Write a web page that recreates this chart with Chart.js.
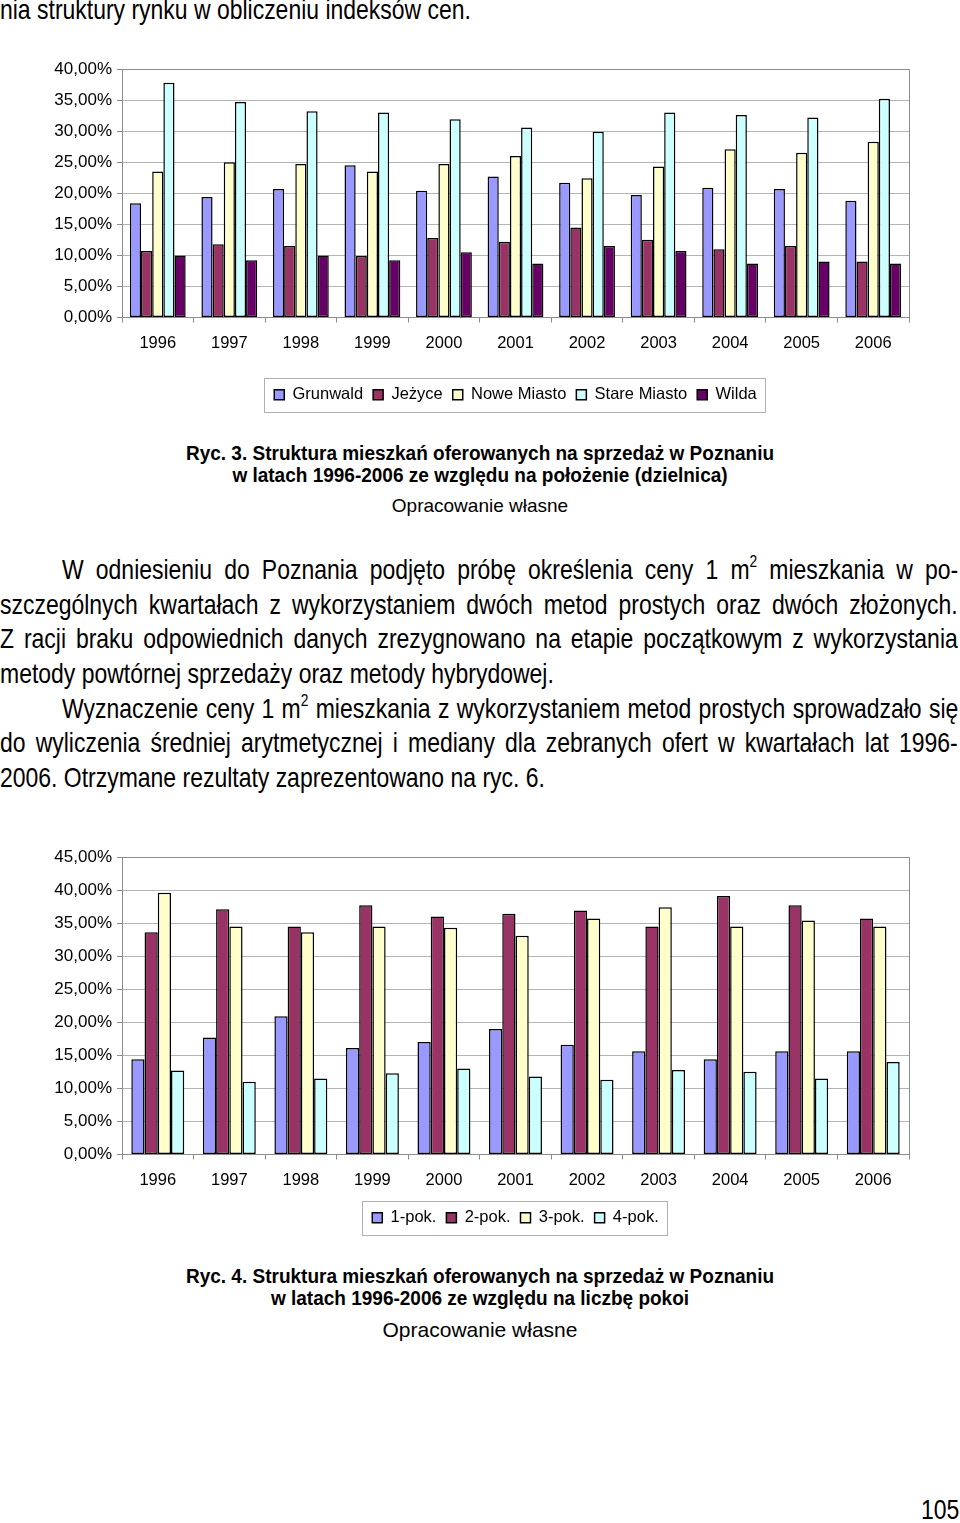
<!DOCTYPE html>
<html lang="pl">
<head>
<meta charset="utf-8">
<script src="https://cdn.jsdelivr.net/npm/chart.js@4.4.1/dist/chart.umd.min.js"></script>
<style>
  html, body { margin: 0; padding: 0; background: #fff; overflow: hidden; }
  body { width: 960px; height: 1523px; position: relative; color: #000; }
  canvas { position: absolute; left: 0; }
  .line {
    position: absolute; left: 0; white-space: nowrap;
    font-family: "Liberation Sans", Arial, sans-serif; font-size: 28px; line-height: 34px;
    transform-origin: 0 0; transform: scaleX(0.82);
  }
  .just { text-align: justify; text-align-last: justify; white-space: normal; }
  .line sup { font-size: 60%; line-height: 0; vertical-align: 0.7em; }
  .cap {
    position: absolute; left: 0; width: 960px; text-align: center; white-space: nowrap;
    font-family: "Liberation Sans", Arial, sans-serif; transform-origin: 480px 0;
  }
  .cap.b { font-weight: bold; font-size: 20px; line-height: 22px; transform: scaleX(0.95); }
</style>
</head>
<body>

<div class="line" style="top:-7px;">nia struktury rynku w obliczeniu indeksów cen.</div>

<canvas id="chartDzielnice" width="960" height="375" style="top:50px;"></canvas>

<div class="cap b" style="top:442px;">Ryc. 3. Struktura mieszkań oferowanych na sprzedaż w Poznaniu</div>
<div class="cap b" style="top:464px;">w latach 1996-2006 ze względu na położenie (dzielnica)</div>
<div class="cap" style="top:495px; font-size:19px; line-height:22px;">Opracowanie własne</div>

<div class="line just" style="top:553px; left:62px; width:1093px;">W odniesieniu do Poznania podjęto próbę określenia ceny 1 m<sup>2</sup> mieszkania w po-</div>
<div class="line just" style="top:588px; width:1168px;">szczególnych kwartałach z wykorzystaniem dwóch metod prostych oraz dwóch złożonych.</div>
<div class="line just" style="top:622px; width:1168px;">Z racji braku odpowiednich danych zrezygnowano na etapie początkowym z wykorzystania</div>
<div class="line" style="top:657px;">metody powtórnej sprzedaży oraz metody hybrydowej.</div>
<div class="line just" style="top:692px; left:62px; width:1093px;">Wyznaczenie ceny 1 m<sup>2</sup> mieszkania z wykorzystaniem metod prostych sprowadzało się</div>
<div class="line just" style="top:726px; width:1168px;">do wyliczenia średniej arytmetycznej i mediany dla zebranych ofert w kwartałach lat 1996-</div>
<div class="line" style="top:761px;">2006. Otrzymane rezultaty zaprezentowano na ryc. 6.</div>

<canvas id="chartPokoje" width="960" height="420" style="top:840px;"></canvas>

<div class="cap b" style="top:1265px;">Ryc. 4. Struktura mieszkań oferowanych na sprzedaż w Poznaniu</div>
<div class="cap b" style="top:1287px;">w latach 1996-2006 ze względu na liczbę pokoi</div>
<div class="cap" style="top:1318px; font-size:21px; line-height:24px;">Opracowanie własne</div>

<div class="line" style="top:1493px; left:921px;">105</div>

<script>
// lata na osi X
const lata = ['1996', '1997', '1998', '1999', '2000', '2001', '2002', '2003', '2004', '2005', '2006'];

// Ryc. 3 - udział ofert wg dzielnicy (%)
const grunwald = [18.4, 19.4, 20.7, 24.5, 20.4, 22.7, 21.7, 19.7, 20.9, 20.7, 18.8];
const jezyce = [10.7, 11.8, 11.5, 9.9, 12.8, 12.2, 14.5, 12.5, 11.0, 11.5, 9.0];
const noweMiasto = [23.5, 25.0, 24.7, 23.5, 24.7, 26.0, 22.4, 24.3, 27.1, 26.5, 28.3];
const stareMiasto = [37.8, 34.7, 33.2, 33.0, 31.9, 30.6, 29.9, 33.0, 32.6, 32.2, 35.2];
const wilda = [10.0, 9.2, 10.0, 9.2, 10.5, 8.7, 11.5, 10.7, 8.7, 9.0, 8.7];

// Ryc. 4 - udział ofert wg liczby pokoi (%)
const pok1 = [14.4, 17.7, 20.9, 16.1, 17.0, 19.0, 16.6, 15.6, 14.4, 15.6, 15.6];
const pok2 = [33.6, 37.1, 34.5, 37.7, 36.0, 36.4, 36.9, 34.5, 39.1, 37.7, 35.7];
const pok3 = [39.6, 34.5, 33.6, 34.5, 34.3, 33.1, 35.7, 37.4, 34.5, 35.4, 34.5];
const pok4 = [12.7, 11.0, 11.5, 12.3, 13.0, 11.8, 11.3, 12.8, 12.5, 11.5, 14.0];

const font = "'Liberation Sans', Arial, sans-serif";

// ramka wykresu (prawa krawedz) i ramka legendy
const ramki = {
    id: 'ramki',
    beforeDatasetsDraw(chart) {
        const ctx = chart.ctx;
        const a = chart.chartArea;
        ctx.save();
        ctx.strokeStyle = '#8c8c8c';
        ctx.lineWidth = 1;
        ctx.beginPath();
        ctx.moveTo(a.left, Math.round(a.top) + 0.5);
        ctx.lineTo(Math.round(a.right) + 0.5, Math.round(a.top) + 0.5);
        ctx.lineTo(Math.round(a.right) + 0.5, a.bottom);
        ctx.stroke();
        ctx.restore();
    },
    afterDraw(chart) {
        const boxes = chart.legend.legendHitBoxes;
        if (!boxes || !boxes.length) return;
        const ctx = chart.ctx;
        const left = Math.min(...boxes.map(b => b.left)) - 10;
        const right = Math.max(...boxes.map(b => b.left + b.width)) + 9;
        const mid = boxes[0].top + boxes[0].height / 2;
        ctx.save();
        ctx.strokeStyle = '#b0b0b0';
        ctx.lineWidth = 1;
        ctx.strokeRect(Math.round(left) + 0.5, Math.round(mid - 17) + 0.5, Math.round(right - left), 34);
        ctx.restore();
    }
};

function zestaw(label, data, kolor) {
    return {
        label: label,
        data: data,
        backgroundColor: kolor,
        borderColor: '#000',
        borderWidth: 1.5,
        borderSkipped: false
    };
}

function opcje(maxY, padding, wysokoscOsiX, categoryPct) {
    return {
        responsive: false,
        animation: false,
        layout: { padding: padding },
        datasets: { bar: { categoryPercentage: categoryPct, barPercentage: 1 } },
        plugins: {
            tooltip: { enabled: false },
            legend: {
                position: 'bottom',
                fullSize: false,
                labels: {
                    boxWidth: 10,
                    boxHeight: 10,
                    padding: 10,
                    color: '#000',
                    font: { family: font, size: 16.5 }
                }
            }
        },
        scales: {
            x: {
                afterFit: (s) => { s.height = wysokoscOsiX; },
                grid: { drawOnChartArea: false, drawTicks: true, tickLength: 5, color: '#8c8c8c', offset: true },
                border: { color: '#8c8c8c', width: 1 },
                ticks: { color: '#000', padding: 11, font: { family: font, size: 16.5 } }
            },
            y: {
                min: 0,
                max: maxY,
                afterFit: (s) => { s.width = 70; },
                grid: { color: '#b4b4b4', tickLength: 5, tickColor: '#8c8c8c' },
                border: { color: '#8c8c8c', width: 1 },
                ticks: {
                    stepSize: 5,
                    padding: 5,
                    color: '#000',
                    font: { family: font, size: 17 },
                    callback: (v) => v.toFixed(2).replace('.', ',') + '%'
                }
            }
        }
    };
}

new Chart(document.getElementById('chartDzielnice'), {
    type: 'bar',
    data: {
        labels: lata,
        datasets: [
            zestaw('Grunwald', grunwald, '#9999ff'),
            zestaw('Jeżyce', jezyce, '#993366'),
            zestaw('Nowe Miasto', noweMiasto, '#ffffcc'),
            zestaw('Stare Miasto', stareMiasto, '#ccffff'),
            zestaw('Wilda', wilda, '#660066')
        ]
    },
    options: opcje(40, { top: 19, right: 51, left: 52, bottom: 12 }, 59, 0.78),
    plugins: [ramki]
});

new Chart(document.getElementById('chartPokoje'), {
    type: 'bar',
    data: {
        labels: lata,
        datasets: [
            zestaw('1-pok.', pok1, '#9999ff'),
            zestaw('2-pok.', pok2, '#993366'),
            zestaw('3-pok.', pok3, '#ffffcc'),
            zestaw('4-pok.', pok4, '#ccffff')
        ]
    },
    options: opcje(45, { top: 17, right: 51, left: 52, bottom: 24 }, 45, 0.74),
    plugins: [ramki]
});
</script>
</body>
</html>
